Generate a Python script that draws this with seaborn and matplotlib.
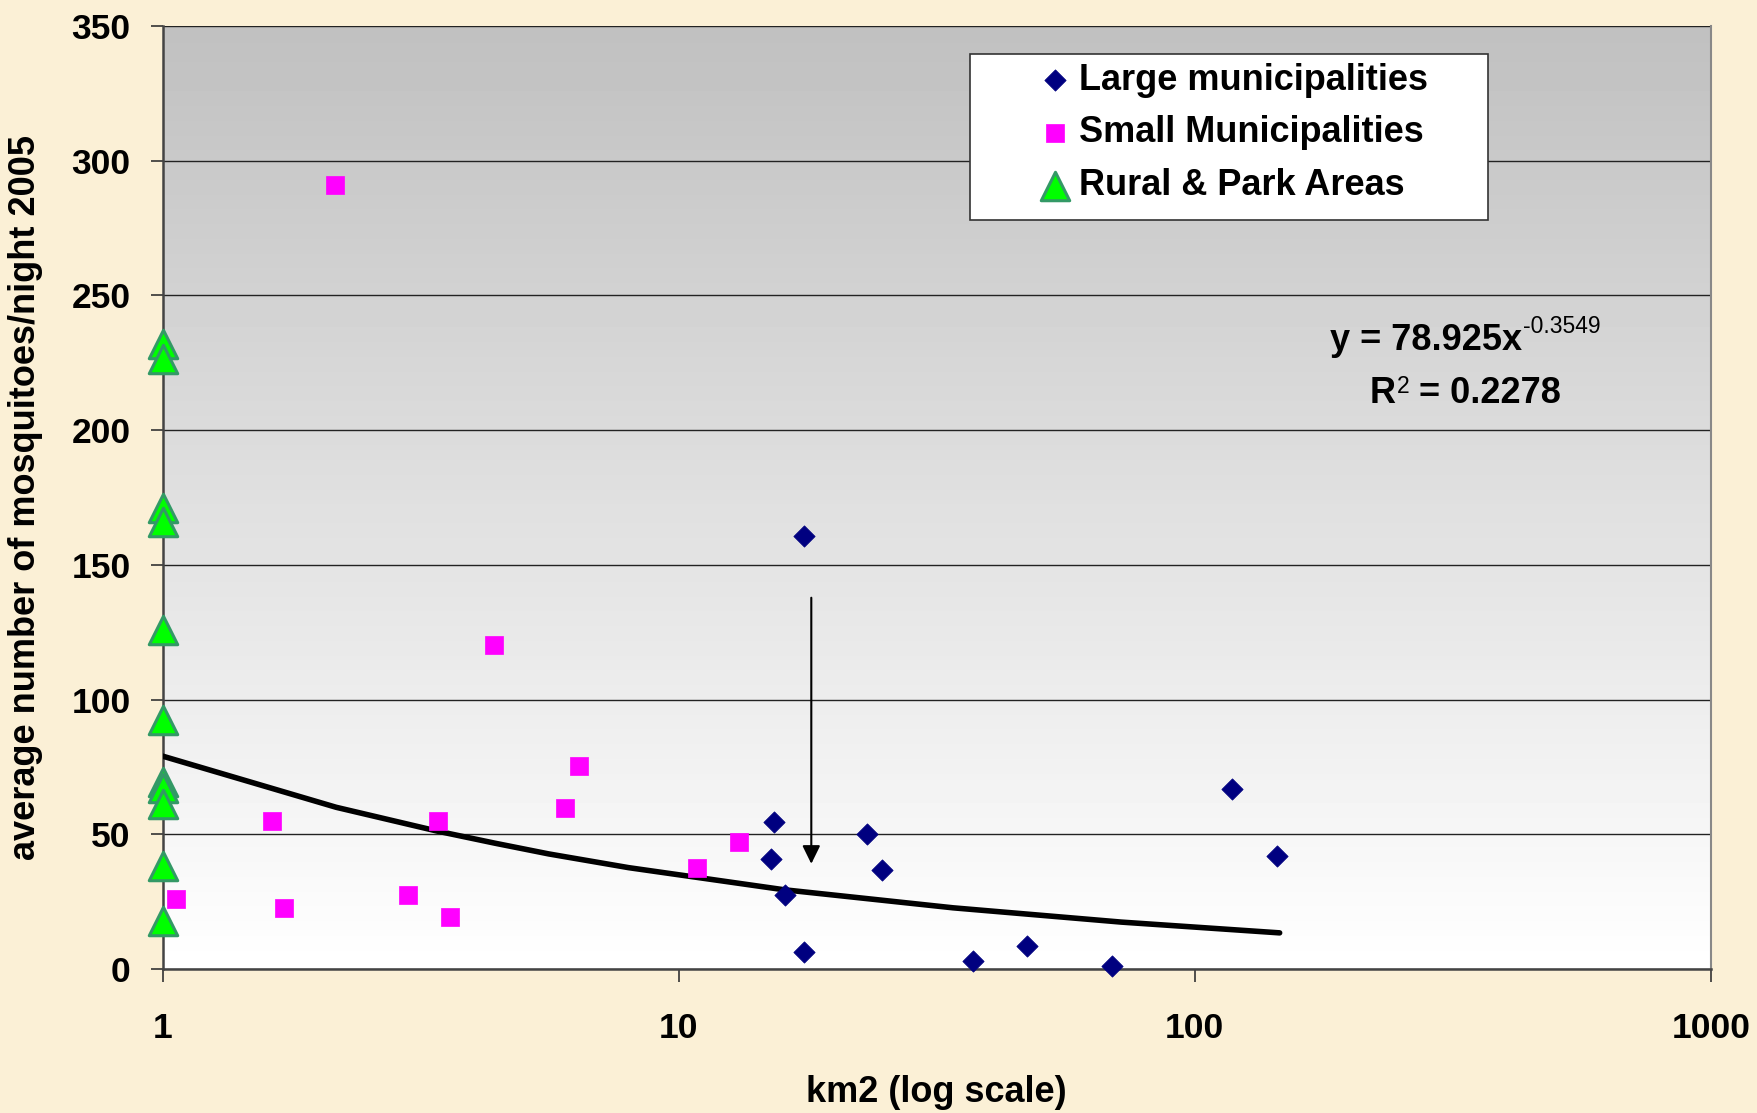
import numpy as np
import pandas as pd
import matplotlib
matplotlib.use('Agg')
import matplotlib.pyplot as plt
import seaborn as sns
from matplotlib.patches import Rectangle
from matplotlib.ticker import FixedLocator, NullLocator

# --- data ---
large_x = [17.5, 15.3, 15.1, 16.1, 17.5, 23.2, 24.8, 37.1, 47.3, 69.0, 118.0, 144.4]
large_y = [160.7, 54.5, 40.9, 27.6, 6.3, 50.1, 36.6, 3.1, 8.6, 1.0, 66.8, 42.0]

small_x = [2.16, 1.63, 1.06, 1.72, 2.99, 3.42, 3.60, 4.39, 6.02, 6.42, 10.85, 13.1]
small_y = [291.0, 55.0, 26.0, 22.6, 27.4, 54.9, 19.3, 120.1, 59.9, 75.2, 37.4, 47.0]

rural_x = [1, 1, 1, 1, 1, 1, 1, 1, 1, 1, 1]
rural_y = [232.0, 226.5, 171.0, 166.0, 125.8, 92.5, 69.3, 67.3, 61.1, 38.3, 17.9]

# power trend line
trend_x = [1, 2.17, 3.4, 4.4, 5.6, 8, 16, 34, 72, 146]
trend_y = [79.0, 60.0, 51.2, 46.7, 42.7, 37.6, 29.4, 22.7, 17.4, 13.4]

x_ticks = [1, 10, 100, 1000]
x_ticklabels = ['1', '10', '100', '1000']
y_ticks = [0, 50, 100, 150, 200, 250, 300, 350]

labels = ['Large municipalities', 'Small Municipalities', 'Rural & Park Areas']
eq_main = 'y = 78.925x'
eq_exp = '-0.3549'
r2_main = 'R'
r2_exp = '2'
r2_rest = ' = 0.2278'

arrow_x = 18.07
arrow_from = 138.8
arrow_to = 38.0

sns.set_theme(style='white')
plt.rcParams['font.family'] = ['Liberation Sans', 'DejaVu Sans']
plt.rcParams['font.weight'] = 'bold'
for key in ['text.color', 'axes.labelcolor', 'xtick.labelcolor', 'ytick.labelcolor']:
    plt.rcParams[key] = 'black'

fig = plt.figure(figsize=(17.57, 11.13), dpi=100)
fig.patch.set_facecolor('#fbf0d6')

pos = [0.0925, 0.1294, 0.8813, 0.8474]

# gray-to-white gradient behind the plot area
bg = fig.add_axes(pos, zorder=0)
grad = np.linspace(0.753, 1.0, 256).reshape(-1, 1)
bg.imshow(grad, aspect='auto', cmap='gray', vmin=0, vmax=1, extent=[0, 1, 0, 1])
bg.axis('off')

ax = fig.add_axes(pos, zorder=1)
ax.patch.set_alpha(0)

df_large = pd.DataFrame({'x': large_x, 'y': large_y})
df_small = pd.DataFrame({'x': small_x, 'y': small_y})
df_rural = pd.DataFrame({'x': rural_x, 'y': rural_y})
df_trend = pd.DataFrame({'x': trend_x, 'y': trend_y})

sns.lineplot(data=df_trend, x='x', y='y', ax=ax, color='black', lw=4,
             zorder=3, sort=False)
sns.scatterplot(data=df_large, x='x', y='y', ax=ax, marker='D', s=118,
                color='#000080', edgecolor='#000080', linewidth=0.5,
                label=labels[0], zorder=4, clip_on=False)
sns.scatterplot(data=df_small, x='x', y='y', ax=ax, marker='s', s=165,
                color='#ff00ff', edgecolor='#ff00ff', linewidth=0.5,
                label=labels[1], zorder=4, clip_on=False)
sns.scatterplot(data=df_rural, x='x', y='y', ax=ax, marker='^', s=420,
                color='#00ff00', edgecolor='#339966', linewidth=2.2,
                label=labels[2], zorder=5, clip_on=False)

ax.annotate('', xy=(arrow_x, arrow_to), xytext=(arrow_x, arrow_from),
            arrowprops=dict(arrowstyle='-|>,head_length=0.55,head_width=0.27',
                            color='black', lw=1.5, mutation_scale=20),
            zorder=4)

ax.set_xscale('log')
ax.set_xlim(1, 1000)
ax.set_ylim(0, 350)
ax.xaxis.set_major_locator(FixedLocator(x_ticks))
ax.xaxis.set_minor_locator(NullLocator())
ax.set_xticklabels(x_ticklabels)
ax.set_yticks(y_ticks)

ax.yaxis.grid(True, color='#222222', lw=1.0)
ax.xaxis.grid(False)
ax.set_axisbelow(True)

for side in ['left', 'bottom']:
    ax.spines[side].set_color('#444444')
    ax.spines[side].set_linewidth(1.8)
ax.spines['right'].set_color('#888888')
ax.spines['right'].set_linewidth(1.5)
ax.spines['top'].set_visible(False)

ax.tick_params(axis='y', which='major', direction='out', length=9, width=1.2,
               color='#333333', pad=14, labelsize=25.5, left=True, labelcolor='black')
ax.tick_params(axis='x', which='major', direction='out', length=9, width=1.2,
               color='#333333', pad=22, labelsize=25.5, bottom=True, labelcolor='black')
for t in ax.get_xticklabels() + ax.get_yticklabels():
    t.set_fontweight('bold')

ax.set_xlabel('km2 (log scale)', fontsize=26, fontweight='bold', color='black')
ax.set_ylabel('average number of mosquitoes/night 2005', fontsize=26,
              fontweight='bold', color='black')
ax.xaxis.set_label_coords(0.5, -0.112)
ax.yaxis.set_label_coords(-0.077, 0.5)

# legend box + frameless legend inside it
ax.add_patch(Rectangle((0.5212, 0.7943), 0.3348, 0.176, transform=ax.transAxes,
                       facecolor='white', edgecolor='#333333', lw=1.2, zorder=6))
leg = ax.legend(loc='upper left', bbox_to_anchor=(0.565, 0.961), frameon=False,
                borderpad=0, handlelength=1.0, handletextpad=0.15,
                labelspacing=0.49, borderaxespad=0, prop={'weight': 'bold', 'size': 26})
leg.set_zorder(7)
for t in leg.get_texts():
    t.set_color('black')

# trend equation: base text on a baseline, superscripts placed right after it
base1 = 0.6564
base2 = 0.5999
t1 = ax.text(0.754, base1, eq_main, transform=ax.transAxes, ha='left', va='baseline',
             fontsize=26, fontweight='bold', zorder=6)
ax.annotate(eq_exp, xy=(1, base1), xycoords=(t1, 'axes fraction'),
            xytext=(0.5, 12.5), textcoords='offset points', ha='left', va='baseline',
            fontsize=16.5, fontweight='normal', zorder=6)
t2 = ax.text(0.7798, base2, r2_main, transform=ax.transAxes, ha='left', va='baseline',
             fontsize=26, fontweight='bold', zorder=6)
t3 = ax.annotate(r2_exp, xy=(1, base2), xycoords=(t2, 'axes fraction'),
                 xytext=(0.5, 7.5), textcoords='offset points', ha='left', va='baseline',
                 fontsize=16.5, fontweight='normal', zorder=6)
ax.annotate(r2_rest, xy=(1, base2), xycoords=(t3, 'axes fraction'),
            xytext=(0, 0), textcoords='offset points', ha='left', va='baseline',
            fontsize=26, fontweight='bold', zorder=6)

plt.savefig('out.png', dpi=100, facecolor=fig.get_facecolor())
